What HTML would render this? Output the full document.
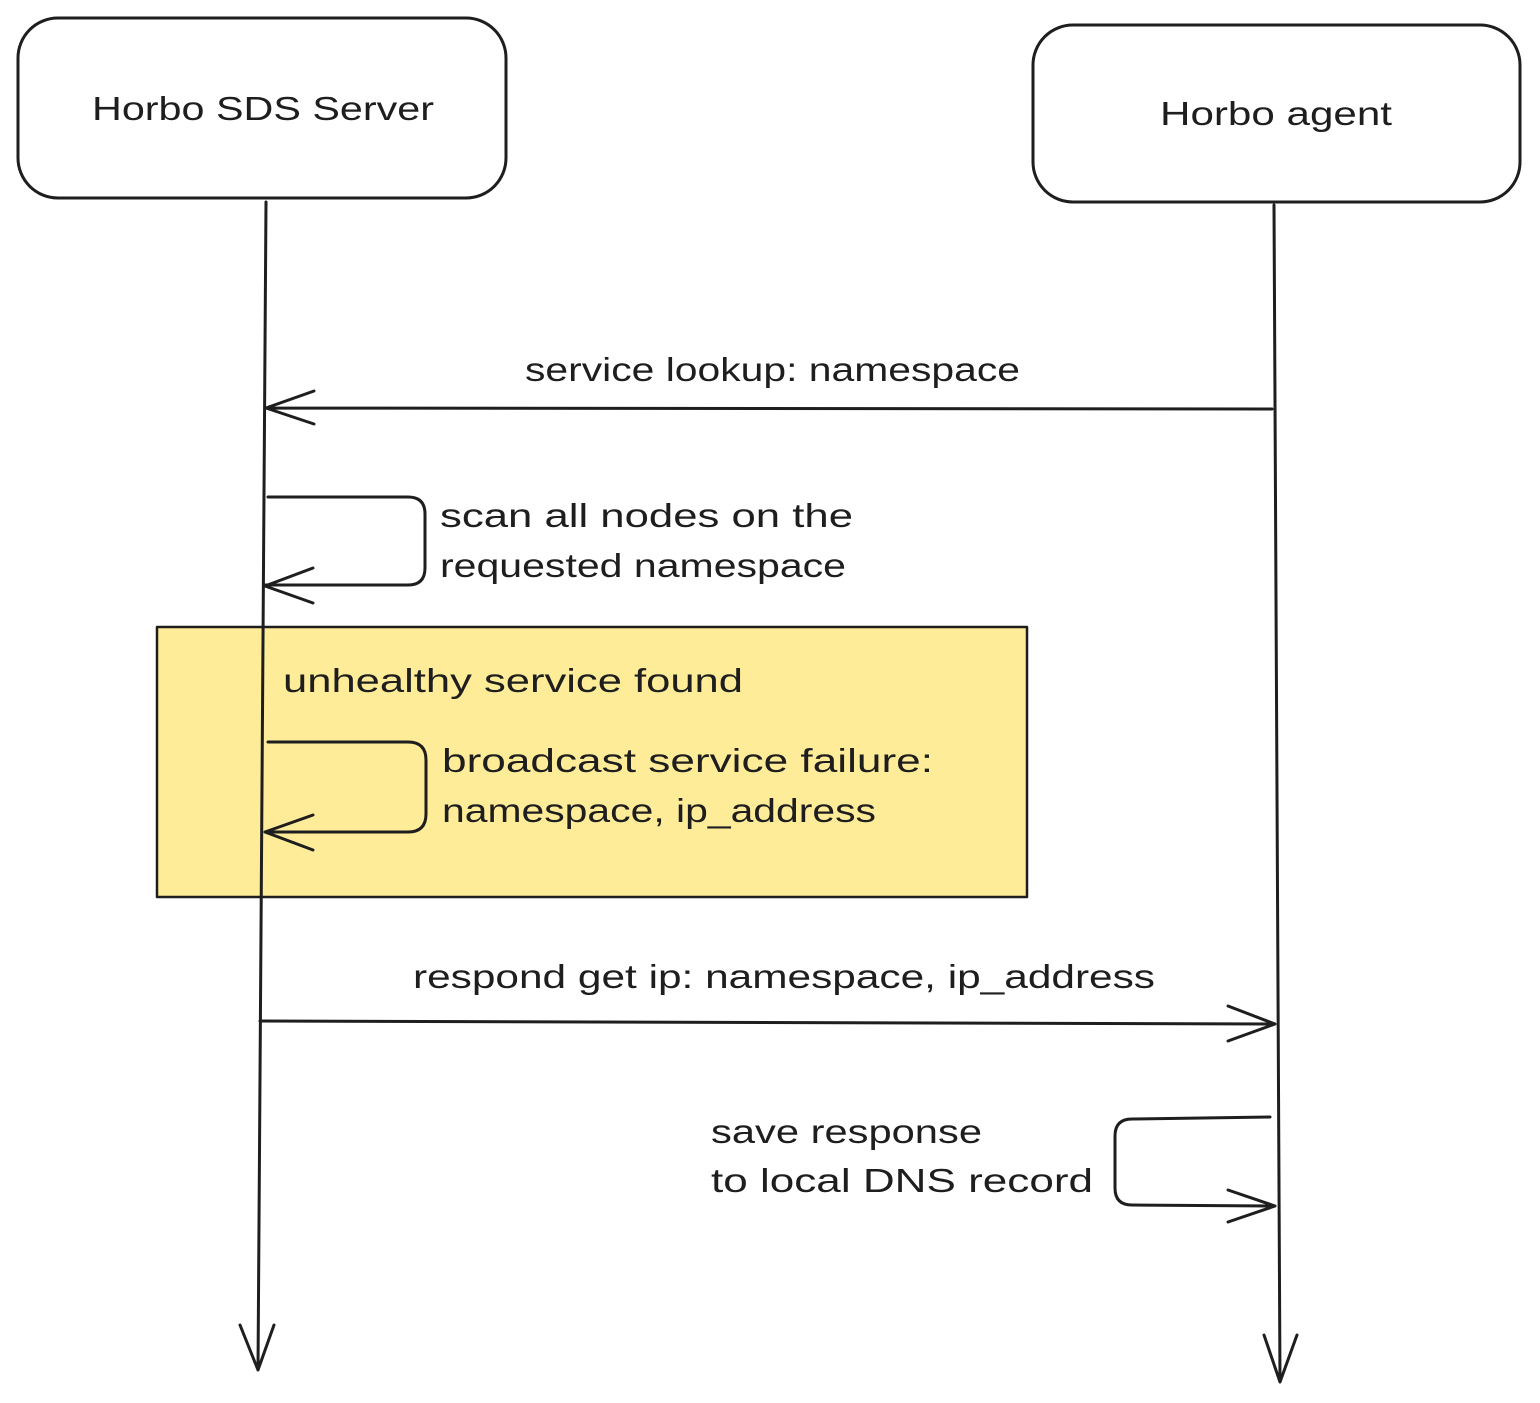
<!DOCTYPE html>
<html><head><meta charset="utf-8"><style>html,body{margin:0;padding:0;background:#fff}svg{display:block}text{font-family:"Liberation Sans",sans-serif;font-size:33px;fill:#1e1e1e}</style></head>
<body>
<svg width="1540" height="1403" viewBox="0 0 1540 1403" xmlns="http://www.w3.org/2000/svg">
<g fill="none" stroke="#1e1e1e" stroke-width="3" stroke-linecap="round" stroke-linejoin="round">
<rect x="157" y="627" width="870" height="270" fill="#ffec99" stroke-width="2.5"/>
<rect x="18" y="18" width="488" height="180" rx="40"/>
<rect x="1033" y="25" width="487" height="177" rx="40"/>
<path d="M266 202 L258 1370 M240 1325 L258 1370 L274 1325"/>
<path d="M1274 205 L1280 1382 M1264 1335 L1280 1382 L1297 1335"/>
<path d="M1272 409 L266 408 M314 391 L266 408 L314 424"/>
<path d="M268 497 L408 497 Q425 497 425 514 L425 568 Q425 585 408 585 L265 585 M313 568 L265 586 L313 603"/>
<path d="M268 742 L408 742 Q426 742 426 760 L426 814 Q426 832 408 832 L265 832 M313 815 L265 832 L313 850"/>
<path d="M260 1021 L1275 1024 M1228 1006 L1275 1024 L1228 1041"/>
<path d="M1270 1117 L1132 1119 Q1115 1119 1115 1136 L1115 1188 Q1115 1205 1132 1205 L1275 1206 M1228 1190 L1275 1206 L1228 1222"/>
</g>
<text x="92" y="120" textLength="342" lengthAdjust="spacingAndGlyphs">Horbo SDS Server</text>
<text x="1160" y="125" textLength="232" lengthAdjust="spacingAndGlyphs">Horbo agent</text>
<text x="525" y="381" textLength="495" lengthAdjust="spacingAndGlyphs">service lookup: namespace</text>
<text x="440" y="527" textLength="413" lengthAdjust="spacingAndGlyphs">scan all nodes on the</text>
<text x="440" y="577" textLength="406" lengthAdjust="spacingAndGlyphs">requested namespace</text>
<text x="283" y="692" textLength="460" lengthAdjust="spacingAndGlyphs">unhealthy service found</text>
<text x="442" y="772" textLength="491" lengthAdjust="spacingAndGlyphs">broadcast service failure:</text>
<text x="442" y="822" textLength="434" lengthAdjust="spacingAndGlyphs">namespace, ip_address</text>
<text x="413" y="988" textLength="742" lengthAdjust="spacingAndGlyphs">respond get ip: namespace, ip_address</text>
<text x="711" y="1143" textLength="271" lengthAdjust="spacingAndGlyphs">save response</text>
<text x="711" y="1192" textLength="382" lengthAdjust="spacingAndGlyphs">to local DNS record</text>
</svg>
</body></html>
